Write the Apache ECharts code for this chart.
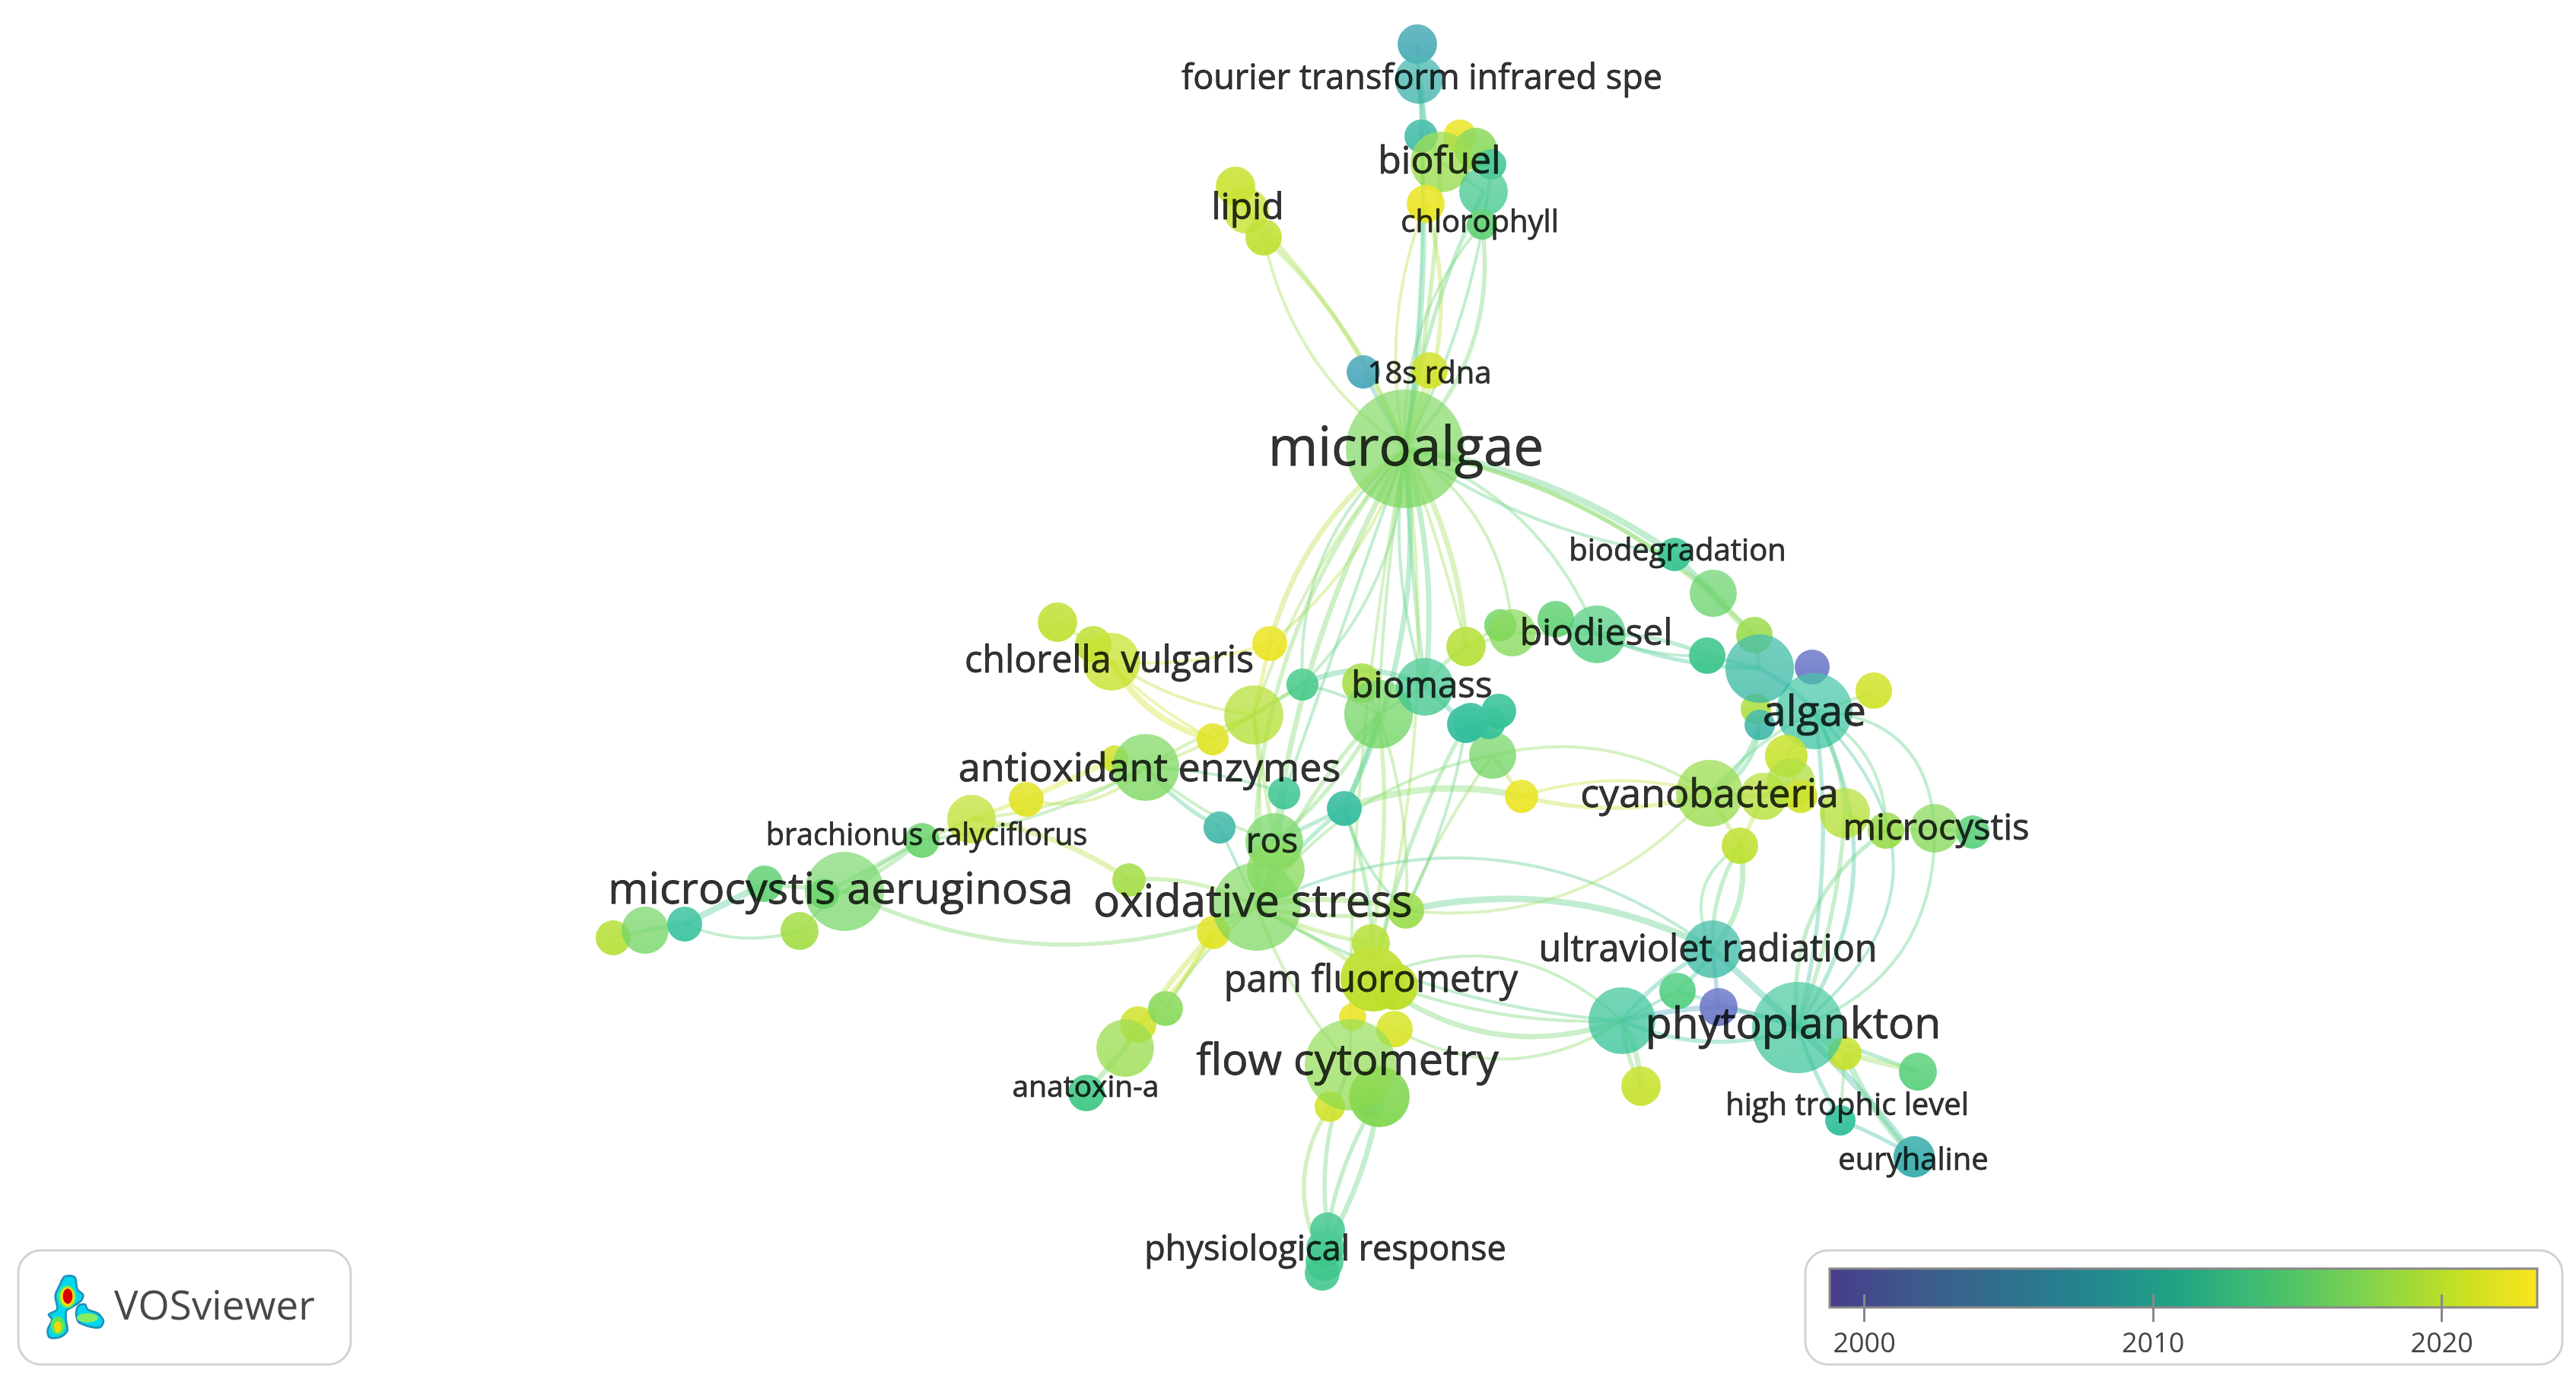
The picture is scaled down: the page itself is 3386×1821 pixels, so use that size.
<!DOCTYPE html>
<html>
<head>
<meta charset="utf-8">
<title>VOSviewer overlay map</title>
<style>
html, body { margin: 0; padding: 0; background: #fff; }
#main { width: 3386px; height: 1821px; }
</style>
<script src="https://cdn.jsdelivr.net/npm/echarts@6/dist/echarts.min.js"></script>
</head>
<body>
<div id="main"></div>
<script>
// keyword nodes, back to front
const nodeIds = [
  'top1','ftir','top3','bfY1','bf2','bf3','biofuel','bf4','bfY2','chloro',
  'lipid1','lipid','lipid3','rdna','rdnaY','ma',
  'biodeg','r1','r2','r3','r7','r6','vio1','algae','r4','r5',
  'y4','y2','y3','y1','cyano','y5','micro1','micro3','mcy','y6',
  'p1','vio2','p2','uv','p3','phyto','p4','p5','htl','eury',
  'd2','d3','d1','d4','biodiesel','bm1','biomass','bm2','bm3','t4','t2','t1','t3','yel',
  'c1','c2','chlor','cY','c3','c4','c5Y',
  'aoxY','antiox','b3Y','b2','brach','s1','s2','s3','ros','ros2','s5Y','ox','s4','s6',
  'm6','m1','mar','m4','m3','m2','m5',
  'pm1','pm2','pm3','pam2','pam','fl3','fl4','fl2','flow',
  'a2','a1','a3','ana','ph1','ph4','ph3','ph2'
];
const nodeX = [
  1863,1865,1868,1919,1940,1960,1894,1950,1874,1948,
  1624,1638,1661,1792,1879,1847,
  2201,2252,2306,2244,2308,2313,2382,2385,2313,2463,
  2348,2354,2367,2318,2247,2425,2479,2593,2543,2287,
  2205,2259,2132,2251,2425,2363,2521,2157,2419,2516,
  1972,1988,1927,2045,2099,1790,1812,1873,1962,1957,1970,1927,1933,2000,
  1390,1437,1461,1669,1712,1648,1594,
  1465,1506,1349,1277,1212,1688,1767,1603,1675,1677,1595,1652,1484,1848,
  1083,1005,1110,806,848,900,1051,
  1802,1778,1833,1833,1805,1748,1800,1813,1775,
  1496,1532,1479,1428,1745,1738,1741,1742
];
const nodeY = [
  58,105,179,179,196,216,213,252,268,295,
  245,277,312,489,487,590,
  729,780,835,862,932,953,877,935,879,908,
  994,1029,1047,1047,1043,1069,1092,1094,1089,1112,
  1303,1324,1342,1248,1385,1351,1409,1428,1473,1521,
  822,832,850,814,834,898,939,903,993,950,935,952,948,1047,
  818,847,870,846,900,940,972,
  998,1009,1051,1077,1105,1043,1063,1088,1107,1144,1226,1192,1157,1197,
  1175,1162,1172,1233,1223,1215,1224,
  1240,1337,1353,1297,1287,1455,1450,1442,1400,
  1347,1326,1378,1437,1617,1674,1659,1641
];
const occurrences = [
  42,62,30,30,49,25,100,64,39,25,
  42,56,36,30,36,380,
  30,60,36,36,25,25,33,156,127,36,
  49,64,30,60,121,68,36,30,64,36,
  36,39,121,90,30,225,39,42,25,46,
  28,60,42,36,90,42,127,90,60,30,33,39,36,30,
  42,36,90,33,28,95,28,
  20,121,33,64,33,28,33,28,90,90,30,210,30,36,
  25,36,169,33,60,33,39,
  39,20,36,60,116,25,25,100,225,
  36,33,90,36,33,33,39,39
];
const avgYear = [
  2007,2009,2010,2022.5,2017,2012,2018,2012.5,2022.5,2015,
  2020.5,2020.5,2020,2006,2021,2016.5,
  2012,2015.5,2018,2012.5,2019,2009.5,2000,2011,2010,2021,
  2020.5,2019,2021,2019.5,2018,2019.5,2018,2014.5,2017,2020,
  2014,2000,2011.5,2010,2020.5,2011.5,2014.5,2020.5,2011,2008.5,
  2016,2017,2019.5,2015,2014,2018.5,2016,2012.5,2016,2011.5,2011.5,2010.5,2011,2022.5,
  2020,2020,2020.5,2022.5,2013,2019.5,2022,
  2021,2016.5,2022,2020,2015.5,2012,2010.5,2009.5,2016,2017,2022,2016.5,2018.5,2018,
  2014.5,2015,2016,2019.5,2016,2011,2018.5,
  2019.5,2022.5,2021.5,2020,2020,2021,2010,2017,2017.5,
  2021,2017,2018,2013,2012.5,2012.5,2012.5,2012.5
];

// co-occurrence links: source, target, strength
const links = [
  ['ma','lipid3',2],['ma','lipid',2],['ma','lipid3',1],['ma','bfY2',1],['ma','bfY2',2],['ma','chloro',1],['ma','chloro',2],
  ['ma','bf4',2],['ma','biofuel',2],['ma','top3',2],['ma','ftir',1],['ma','bf3',1],['ma','rdna',2],['ma','rdnaY',2],
  ['ftir','top1',2],['ftir','top3',3],['ftir','biofuel',2],['top3','biofuel',1],['biofuel','bf4',1],['lipid1','lipid',1],['lipid','lipid3',1],
  ['ma','biodeg',4],['ma','biodeg',1],['ma','r1',2],['ma','r2',2],['ma','biodiesel',1],['ma','d3',1],['ma','d1',3],['ma','d1',1],
  ['ma','bm2',1],['ma','bm2',2],['ma','bm2',3],
  ['ma','cY',3],['ma','cY',1],['ma','c3',1],['ma','c3',1],['ma','ros',3],['ma','s2',3],['ma','biomass',1],['ma','c4',1],['ma','ox',2],['ma','pam',1],['ma','flow',1],['ma','s1',1],
  ['cY','c4',2],['cY','chlor',1],['c3','c4',2],['c3','bm2',3],['c3','biomass',1],['c3','c5Y',1],['c4','ros',2],['c4','ox',1],['c4','c5Y',2],
  ['chlor','c5Y',4],['chlor','c4',1],['c2','c5Y',1],['c1','c2',1],['c2','chlor',1],
  ['antiox','c4',1],['antiox','c5Y',1],['antiox','s3',2],['antiox','ros',1],['antiox','s1',1],['antiox','aoxY',1],['antiox','b3Y',1],['antiox','b2',1],['antiox','brach',1],
  ['aoxY','b3Y',3],['b3Y','b2',2],['b2','brach',2],['brach','mar',2],['brach','mar',1],['brach','m6',2],['mar','m1',2],['m1','m2',4],['m2','m3',2],['m3','m4',1],['m2','m5',1],['mar','m5',1],
  ['b2','s4',3],['s4','ox',2],['mar','ox',2],
  ['ox','s5Y',1],['s5Y','a1',2],['s5Y','a2',2],['s5Y','a3',3],['ox','a1',1],['a1','a2',1],['a2','a3',1],['a3','ana',3],
  ['ox','pm1',2],['ox','pam',2],['ox','s6',3],['ox','s6',2],['ox','uv',1],['ox','p2',1],['ox','flow',1],['ox','s2',2],['ox','s1',1],['ox','s3',1],['ros','s2',2],['ox','biomass',2],['ros','biomass',2],['ox','bm3',1],
  ['bm3','cyano',1],['yel','cyano',2],['yel','cyano',1],['s2','yel',4],['bm3','yel',2],['s2','biomass',3],['s2','pam',2],['s2','s6',1],['s6','uv',4],['s6','cyano',1],
  ['t1','pam',2],['bm3','s6',1],['biomass','pm1',2],['biomass','s6',1],['t1','s6',1],
  ['biomass','bm1',1],['biomass','bm2',1],['bm2','t1',3],['bm2','d1',2],['d1','d3',1],['d3','biodiesel',1],['d1','d2',1],['biodiesel','d4',1],
  ['biodiesel','r3',2],['biodiesel','r4',2],['biodiesel','r3',1],['biodeg','r1',3],['r1','r2',4],['r2','r4',2],['r3','r4',2],['r4','algae',2],
  ['algae','r5',1],['algae','y4',2],['cyano','r6',2],['cyano','r6',2],['cyano','algae',1],['cyano','y1',2],['y1','y2',2],['y4','y3',2],['cyano','y6',2],['y1','y6',2],
  ['y6','uv',3],['y6','uv',1],['y6','uv',2],['y5','micro1',2],['micro1','mcy',2],['mcy','micro3',2],
  ['algae','mcy',1],['algae','micro1',1],['algae','y5',2],['algae','phyto',2],['algae','phyto',1],['algae','phyto',2],
  ['mcy','phyto',1],['micro1','phyto',2],['y5','phyto',2],
  ['uv','phyto',4],['uv','p2',2],['uv','p1',2],['uv','vio2',2],['vio2','phyto',3],['vio2','p2',3],['p2','p1',1],['p2','phyto',2],['p1','phyto',1],['p2','p5',3],['p2','p5',2],
  ['phyto','p3',2],['phyto','p4',2],['p3','p4',3],['phyto','htl',2],['phyto','eury',4],['htl','eury',2],['p3','eury',4],['p3','htl',1],
  ['pam','p2',1],['pam2','p2',1],['pam','p2',3],['pm3','p2',1],
  ['flow','ph1',2],['fl2','ph2',3],['fl2','ph1',2],['fl3','ph3',2],['ph1','ph4',1]
];

// bow of each link, same order as links
const linkBends = [
  -0.12,-0.1,0.2,0.15,-0.2,0.2,-0.25,
  0.08,-0.04,-0.06,-0.05,-0.1,0,0,
  0,0.1,-0.1,0,0,0,0,
  0.12,-0.12,0.13,0.16,0.22,0.25,0.12,0.03,
  -0.12,-0.02,0.1,
  -0.18,0.15,-0.25,0.2,-0.1,0.15,-0.03,-0.1,-0.2,0.1,-0.05,0,
  0,0.1,0,0.25,0.1,0,0,0.05,0,
  -0.22,-0.12,-0.1,0,0,
  0.05,-0.05,-0.1,-0.1,0.08,0,0.28,0.1,0.1,
  0,0,0,0.05,-0.05,0,0,0,0,0,-0.18,-0.08,
  0.12,0.15,-0.22,
  0,0,0.1,-0.05,-0.1,0,0,0,
  -0.08,0.05,0.12,-0.1,0.3,-0.12,-0.1,0.1,-0.1,0,0,0.1,-0.1,0.2,
  0.22,-0.14,0.15,0.15,0,-0.05,0.1,-0.15,0.18,-0.26,
  -0.08,-0.06,0.08,0.1,0.08,
  0,0,0,0.1,0,0,0,0,
  0.12,-0.1,-0.12,0,-0.05,0,0,0.1,
  -0.05,0,-0.3,-0.18,0.1,0,0,0,0,0,
  0.25,-0.45,-0.15,0,0,0,
  0.45,0.3,0.12,0.3,0.55,0.1,
  0.35,-0.3,0.08,
  0,-0.12,0.1,0,0.05,-0.05,0,-0.2,0,0.12,-0.1,
  0,0,0,-0.05,0.05,0.05,-0.1,0,
  0.33,-0.1,-0.27,-0.3,
  -0.14,0.1,-0.1,-0.3,0
];

// printed keywords and where their text sits
const labelText = [
  'fourier transform infrared spe','biofuel','lipid','chlorophyll','18s rdna','microalgae','biodegradation','biodiesel','algae',
  'cyanobacteria','microcystis','ultraviolet radiation','phytoplankton','high trophic level','euryhaline','chlorella vulgaris',
  'biomass','antioxidant enzymes','ros','oxidative stress','pam fluorometry','flow cytometry','anatoxin-a','physiological response',
  'microcystis aeruginosa','brachionus calyciflorus'
];
const labelX = [
  1869,1892,1640,1945,1879,1848,2205,2098,2385,
  2247,2545,2245,2357,2428,2515,1458,
  1869,1511,1672,1647,1802,1771,1427,1742,
  1105,1218
];
const labelY = [
  104,214,274,294,493,592,726,834,938,
  1046,1091,1250,1349,1455,1527,870,
  903,1012,1108,1188,1290,1397,1431,1644,
  1172,1100
];
const labelFontSize = [45,50,48,40,40,70.5,40,48,55,52,47,48.5,57,40,40,48.5,47.5,52,46,58,48.8,57.5,39,45,57.4,39.5];

// score scale of the overlay
const yearRange = [1998.8, 2023.3];
const legendTicks = [2000, 2010, 2020];
const viridis = ['#473c8b','#3e5a8c','#2f708e','#23888e','#22a584','#45c06e','#7dd24f','#bfdf25','#fbe51c'];
// circles and links print paler than the legend bar
const nodePalette = ['#6f58c6','#4f8fc0','#3f9dbb','#3aa9ae','#2fbf9a','#48cb78','#84d84e','#bfe020','#f8e410'];
// these stay saturated in the picture
const solidNodes = ['pam','pam2','fl2','t1','t2','t3','t4','htl','eury','ana','s2','biodeg','r3'];

const colorOf = y => echarts.color.lerp((y - yearRange[0]) / (yearRange[1] - yearRange[0]), nodePalette);
const yearOf = {};
nodeIds.forEach((id, i) => { yearOf[id] = avgYear[i]; });

const nodes = nodeIds.map((id, i) => {
  const r = 4 * Math.sqrt(occurrences[i]);
  const c = colorOf(avgYear[i]);
  const alpha = solidNodes.includes(id) ? 0.95 : r > 48 ? 0.7 : r > 29 ? 0.76 : 0.88;
  return {
    name: id,
    value: [nodeX[i], nodeY[i]],
    symbolSize: 2 * r,
    itemStyle: {
      // bigger circles let more of the links show through
      opacity: alpha,
      color: new echarts.graphic.LinearGradient(0, 0, 0, 1, [
        { offset: 0, color: echarts.color.lift(c, 0.12) },
        { offset: 1, color: c }
      ])
    }
  };
});

const edges = links.map((l, i) => ({
  source: l[0],
  target: l[1],
  lineStyle: {
    color: echarts.color.lift(colorOf((yearOf[l[0]] + yearOf[l[1]]) / 2), 0.15),
    width: 2.5 + l[2] * 1.5,
    curveness: linkBends[i],
    opacity: 0.4
  }
}));

const chart = echarts.init(document.getElementById('main'));

chart.setOption({
  animation: false,
  backgroundColor: '#fff',
  textStyle: { fontFamily: 'Open Sans' },
  grid: [
    { left: 0, top: 0, width: 3386, height: 1821 },
    { left: 2405, top: 1668, width: 930, height: 51 }
  ],
  xAxis: [
    { gridIndex: 0, type: 'value', min: 0, max: 3386, show: false },
    {
      gridIndex: 1, type: 'value', min: yearRange[0], max: yearRange[1], z: 5, offset: -17,
      splitLine: { show: false },
      axisLine: { show: false },
      axisTick: { show: true, customValues: legendTicks, length: 36, lineStyle: { color: '#888', width: 3 } },
      axisLabel: {
        customValues: legendTicks, margin: 48, fontSize: 36, color: '#444', fontFamily: 'Open Sans',
        formatter: v => String(v)
      }
    }
  ],
  yAxis: [
    { gridIndex: 0, type: 'value', min: 0, max: 1821, inverse: true, show: false },
    { gridIndex: 1, type: 'value', min: 0, max: 1, show: false }
  ],
  series: [
    {
      type: 'graph',
      coordinateSystem: 'cartesian2d',
      xAxisIndex: 0,
      yAxisIndex: 0,
      layout: 'none',
      silent: true,
      data: nodes,
      links: edges,
      label: { show: false },
      z: 2
    },
    {
      type: 'scatter',
      xAxisIndex: 0,
      yAxisIndex: 0,
      silent: true,
      symbolSize: 1,
      itemStyle: { color: 'transparent' },
      z: 10,
      label: { show: true, position: 'inside', color: '#000', textBorderColor: '#000', textBorderWidth: 0.8, fontFamily: 'Open Sans' },
      data: labelText.map((t, i) => ({
        name: t,
        value: [labelX[i], labelY[i]],
        label: {
          formatter: t,
          fontSize: labelFontSize[i]
        }
      }))
    },
    {
      // colour bar of the score legend
      type: 'custom',
      xAxisIndex: 1,
      yAxisIndex: 1,
      silent: true,
      data: [[yearRange[0], 0]],
      renderItem: (params, api) => {
        const a = api.coord([yearRange[0], 1]);
        const b = api.coord([yearRange[1], 0]);
        return {
          type: 'rect',
          shape: { x: a[0], y: a[1], width: b[0] - a[0], height: b[1] - a[1] },
          style: {
            stroke: '#888',
            lineWidth: 3,
            fill: new echarts.graphic.LinearGradient(0, 0, 1, 0,
              viridis.map((c, i) => ({ offset: i / (viridis.length - 1), color: c })))
          }
        };
      }
    }
  ],
  graphic: [
    { type: 'rect', shape: { x: 24, y: 1644, width: 437, height: 150, r: 30 }, style: { fill: '#fff', stroke: '#d2d2d2', lineWidth: 3 }, z: -1 },
    { type: 'rect', shape: { x: 2373, y: 1644, width: 995, height: 150, r: 30 }, style: { fill: '#fff', stroke: '#d2d2d2', lineWidth: 3 }, z: -1 },
    { type: 'text', left: 150, top: 1693, style: { text: 'VOSviewer', fontSize: 53, fontFamily: 'Open Sans', fill: '#484848' } },
    // VOSviewer logo, a small density map
    {
      type: 'group', x: 0, y: 1620, scaleX: 1 / 3, scaleY: 1 / 3,
      children: [
        { type: 'polygon', shape: { smooth: 0.3, points: [[255,175],[295,178],[305,225],[328,248],[320,270],[285,295],[262,310],[260,345],[265,390],[235,415],[195,415],[188,385],[205,345],[192,325],[225,305],[218,250],[235,210]] }, style: { fill: '#00d8f0', stroke: '#2090b8', lineWidth: 8 } },
        { type: 'polygon', shape: { smooth: 0.3, points: [[310,290],[335,285],[345,305],[385,320],[408,350],[395,375],[365,375],[330,365],[310,355],[300,320]] }, style: { fill: '#00d8f0', stroke: '#2090b8', lineWidth: 8 } },
        { type: 'ellipse', shape: { cx: 265, cy: 255, rx: 36, ry: 46 }, style: { fill: '#48e888' } },
        { type: 'ellipse', shape: { cx: 266, cy: 255, rx: 28, ry: 38 }, style: { fill: '#ffe000' } },
        { type: 'ellipse', shape: { cx: 267, cy: 253, rx: 19, ry: 30 }, style: { fill: '#d80000' } },
        { type: 'ellipse', shape: { cx: 228, cy: 368, rx: 28, ry: 36 }, style: { fill: '#58e860' } },
        { type: 'ellipse', shape: { cx: 228, cy: 374, rx: 14, ry: 22 }, style: { fill: '#f8d800' } },
        { type: 'ellipse', shape: { cx: 345, cy: 338, rx: 42, ry: 18 }, style: { fill: '#88ec60' } }
      ]
    }
  ]
});
</script>
</body>
</html>
